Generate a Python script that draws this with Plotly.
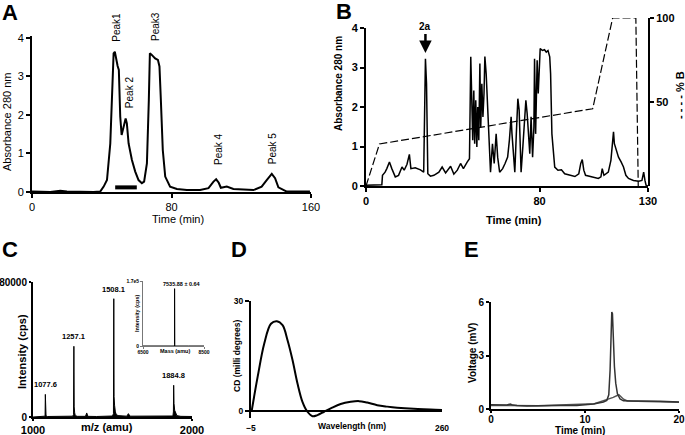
import plotly.graph_objects as go

W, H = 685, 435
FONT = "Arial, Liberation Sans, sans-serif"

# ---------------- Panel A ----------------
A_time = [0, 10.5, 16.2, 20.0, 35.3, 39.1, 41.1, 43.0, 44.9, 46.0, 46.8, 47.5, 48.3, 49.1, 49.8,
          50.6, 51.4, 52.1, 52.9, 53.7, 54.4, 55.4, 57.3, 59.2, 61.1, 63.0, 64.3, 65.9, 67.0,
          67.6, 68.7, 70.6, 72.2, 73.1, 73.9, 75.0, 76.4, 79.2, 83.1, 88.8, 96.4, 101.2, 104.1,
          105.6, 107.1, 108.3, 111.7, 115.5, 127.0, 131.7, 134.6, 137.5, 139.4, 141.3, 146.1, 159.4]
A_abs = [0.01, 0.0, 0.035, 0.01, 0.0, 0.01, 0.14, 0.31, 1.26, 2.82, 3.60, 3.64, 3.43, 3.27, 3.17,
         1.96, 1.48, 1.61, 1.83, 1.91, 1.78, 1.26, 0.83, 0.53, 0.31, 0.23, 0.27, 0.74, 2.39,
         3.60, 3.56, 3.47, 3.43, 3.26, 2.39, 1.09, 0.40, 0.14, 0.08, 0.05, 0.05, 0.10, 0.27,
         0.33, 0.24, 0.11, 0.14, 0.08, 0.05, 0.14, 0.31, 0.47, 0.36, 0.12, 0.01, 0.01]
A_bar_x = [47.7, 60.1]
A_bar_y = [0.12, 0.12]
A_peak_names = ["Peak1", "Peak 2", "Peak3", "Peak 4", "Peak 5"]
A_peak_x = [48.7, 56.3, 71.2, 106.9, 138.0]
A_peak_y = [3.86, 2.13, 3.86, 0.66, 0.66]
A_xticks = [0, 80, 160]
A_yticks = [0, 1, 2, 3, 4]

# ---------------- Panel B ----------------
B_time = [0, 7.3, 7.6, 8.8, 9.6, 10.8, 11.9, 13.5, 15.0, 16.6, 17.6, 18.9, 20.0, 20.7, 22.7, 25.1,
          26.6, 27.1, 27.4, 27.9, 28.5, 29.7, 31.3, 33.6, 35.1, 36.7, 39.0, 40.5, 42.1, 43.6, 44.9,
          46.7, 47.7, 48.3, 48.7, 49.2, 49.7, 50.1, 50.6, 51.1, 51.5, 52.0, 52.5, 52.9, 53.4, 53.9,
          54.4, 54.8, 55.4, 56.0, 56.8, 57.4, 58.3, 59.1, 60.0, 60.7, 61.6, 63.0, 64.1, 65.3, 66.1,
          66.9, 67.3, 67.9, 68.6, 69.3, 70.0, 70.6, 71.0, 71.5, 72.3, 73.0, 73.7, 74.3, 74.9, 75.5,
          76.1, 76.8, 77.4, 77.7, 78.2, 78.6, 78.9, 79.4, 79.9, 80.3, 81.3, 82.3, 83.1, 83.9, 84.7,
          85.1, 85.7, 86.4, 87.0, 88.5, 90.1, 91.6, 93.9, 96.3, 98.1, 99.0, 99.7, 100.4, 101.2,
          104.0, 107.1, 108.3, 108.9, 109.7, 111.7, 112.9, 113.6, 114.1, 114.5, 115.3, 116.4,
          117.6, 118.7, 119.8, 121.0, 123.3, 125.7, 127.2, 128.0, 128.6, 129.1, 130.0]
B_abs = [0.02, 0.03, 0.27, 0.35, 0.44, 0.61, 0.44, 0.23, 0.27, 0.48, 0.40, 0.55, 0.80, 0.44, 0.46, 0.41,
         0.35, 1.75, 3.22, 2.59, 0.31, 0.25, 0.27, 0.35, 0.48, 0.33, 0.50, 0.30, 0.40, 0.57, 0.44,
         0.61, 0.69, 3.27, 1.92, 1.16, 2.42, 1.07, 2.17, 0.99, 2.00, 1.16, 3.10, 1.49, 2.59, 1.75,
         2.34, 3.28, 2.84, 2.00, 0.90, 0.35, 1.07, 0.57, 1.32, 0.73, 0.35, 0.44, 0.57, 0.73, 1.16,
         1.75, 1.32, 0.73, 0.35, 1.32, 2.21, 1.92, 0.90, 0.35, 0.99, 1.75, 2.17, 1.83, 1.32, 0.82,
         1.75, 0.73, 1.49, 3.22, 1.32, 2.51, 3.18, 2.34, 3.01, 3.48, 3.43, 3.45, 3.39, 3.43, 3.27,
         2.84, 1.32, 0.73, 0.48, 0.40, 0.41, 0.31, 0.27, 0.24, 0.31, 0.57, 0.67, 0.40, 0.27,
         0.23, 0.19, 0.23, 0.44, 0.27, 0.35, 0.65, 0.99, 1.37, 1.07, 0.90, 0.73,
         0.61, 0.48, 0.27, 0.19, 0.14, 0.12, 0.14, 0.35, 0.14, 0.02, 0.0]
B_grad_time = [0, 6.2, 104.5, 113.7, 124.4, 125.5]
B_grad_pct = [0, 25, 46, 100, 100, 0]
B_xticks = [0, 80, 130]
B_yticks = [0, 1, 2, 3, 4]
B_y2ticks = [50, 100]
B_arrow_x, B_arrow_y = 27.4, 3.37

# ---------------- Panel C ----------------
C_mz = [1000, 1040, 1070, 1076, 1077.6, 1079, 1082, 1090, 1150, 1200, 1250, 1255, 1257.1, 1259, 1262,
        1266, 1280, 1330, 1338, 1345, 1400, 1450, 1500, 1506, 1508.1, 1510, 1513, 1518, 1525, 1540,
        1590, 1600, 1610, 1700, 1800, 1880, 1883, 1884.8, 1887, 1891, 1897, 1905, 1930, 2000]
C_int = [0, 300, 300, 500, 13400, 2000, 800, 300, 400, 300, 500, 1500, 41900, 6000, 2500,
         800, 400, 400, 2400, 400, 300, 400, 600, 2000, 70100, 12000, 7000, 3000, 1200, 800,
         500, 2000, 500, 400, 300, 600, 3000, 18800, 8000, 4000, 2000, 800, 400, 300]
C_peak_labels = ["1077.6", "1257.1", "1508.1", "1884.8"]
C_peak_mz = [1077.6, 1257.1, 1508.1, 1884.8]
C_peak_int = [13400, 41900, 70100, 18800]
C_xticks = [1000, 2000]
C_yticks = [0, 80000]
Ci_mass = [6500, 7000, 7530, 7534, 7535.88, 7538, 7542, 8000, 8500]
Ci_int = [0, 0, 0, 4000, 150000, 4000, 0, 0, 0]
Ci_xticks = [6500, 8500]
Ci_yticks = [0, 170000]
Ci_yticktext = ["0", "1.7e5"]

# ---------------- Panel D ----------------
D_wl = [-4.1, 4.2, 13.4, 22.7, 30.9, 38.8, 45.7, 52.6, 59.5, 66.4, 73.3, 80.3, 87.2, 96.4, 105.6,
        119.4, 133.3, 144.8, 156.3, 170.1, 184.0, 197.8, 220.8, 243.9, 260.0]
D_cd = [0, 9.3, 18.4, 23.8, 24.5, 23.4, 19.3, 13.9, 7.5, 2.5, -0.2, -1.4, -1.1, -0.2, 0.7,
        1.9, 2.5, 2.7, 2.3, 1.6, 1.2, 0.9, 0.6, 0.45, 0.3]
D_xticks = [-5, 260]
D_yticks = [0, 30]

# ---------------- Panel E ----------------
E_time = [0, 0.99, 1.70, 2.05, 2.34, 2.76, 3.82, 7.36, 9.13, 10.90, 11.96, 12.32, 12.53, 12.67, 12.78,
          12.85, 12.92, 13.03, 13.13, 13.27, 13.45, 13.73, 14.09, 15.15, 16.57, 17.98, 20.0]
E_volt = [0.24, 0.22, 0.22, 0.28, 0.22, 0.19, 0.17, 0.19, 0.20, 0.28, 0.39, 0.48, 0.80, 2.19, 4.42,
          5.44, 5.35, 3.68, 2.38, 1.45, 0.85, 0.56, 0.46, 0.45, 0.45, 0.43, 0.39]
E2_time = [0, 5, 11, 12.3, 13.0, 13.6, 14.1, 14.5, 20]
E2_volt = [0.2, 0.18, 0.3, 0.5, 0.65, 0.8, 0.55, 0.45, 0.38]
E_xticks = [0, 10, 20]
E_yticks = [0, 3, 6]


def xd(p0, p1):
    return [p0 / W, p1 / W]


def yd(top, bottom):
    return [1 - bottom / H, 1 - top / H]


def axis(dom, rng, tickvals, size, bold=True, anchor=None, ticktext=None, color="black", lw=2, **kw):
    d = dict(domain=dom, range=rng, tickvals=tickvals, showgrid=False, zeroline=False,
             showline=True, linecolor=color, linewidth=lw, ticks="outside", ticklen=4,
             tickwidth=lw, tickcolor=color, automargin=False,
             tickfont=dict(family=FONT, size=size, color="black",
                           weight="bold" if bold else "normal"))
    if anchor:
        d["anchor"] = anchor
    if ticktext is not None:
        d["ticktext"] = ticktext
    d.update(kw)
    return d


fig = go.Figure()

# A
fig.add_trace(go.Scatter(x=A_time, y=A_abs, mode="lines", line=dict(color="black", width=2),
                         xaxis="x", yaxis="y"))
fig.add_trace(go.Scatter(x=A_bar_x, y=A_bar_y, mode="lines", line=dict(color="black", width=4),
                         xaxis="x", yaxis="y"))
# B
fig.add_trace(go.Scatter(x=B_time, y=B_abs, mode="lines", line=dict(color="black", width=1.5),
                         xaxis="x2", yaxis="y2"))
fig.add_trace(go.Scatter(x=B_grad_time, y=B_grad_pct, mode="lines",
                         line=dict(color="black", width=1.2, dash="8px,3px"),
                         xaxis="x2", yaxis="y3"))
# C
fig.add_trace(go.Scatter(x=C_mz, y=C_int, mode="lines", line=dict(color="black", width=1),
                         fill="tozeroy", fillcolor="black", xaxis="x3", yaxis="y4"))
fig.add_trace(go.Scatter(x=Ci_mass, y=Ci_int, mode="lines", line=dict(color="black", width=1),
                         xaxis="x4", yaxis="y5"))
# D
fig.add_trace(go.Scatter(x=D_wl, y=D_cd, mode="lines", line=dict(color="black", width=2, shape="spline"),
                         xaxis="x5", yaxis="y6"))
# E
fig.add_trace(go.Scatter(x=E2_time, y=E2_volt, mode="lines", line=dict(color="#555", width=1.5),
                         xaxis="x6", yaxis="y7"))
fig.add_trace(go.Scatter(x=E_time, y=E_volt, mode="lines", line=dict(color="#333", width=1.5),
                         xaxis="x6", yaxis="y7"))

layout = dict(
    width=W, height=H, margin=dict(l=0, r=0, t=0, b=0), showlegend=False,
    paper_bgcolor="white", plot_bgcolor="rgba(0,0,0,0)",
    font=dict(family=FONT, color="black"),
    xaxis=axis(xd(32, 311), [0, 160], A_xticks, 11, bold=False, anchor="y"),
    yaxis=axis(yd(36, 192), [0, 4.05], A_yticks, 11, bold=False, anchor="x"),
    xaxis2=axis(xd(366, 648), [0, 130], B_xticks, 11, anchor="y2"),
    yaxis2=axis(yd(28, 186), [0, 4], B_yticks, 11, anchor="x2"),
    yaxis3=axis(yd(18, 186), [0, 100], B_y2ticks, 11, anchor="x2", side="right"),
    xaxis3=axis(xd(33, 192), [1000, 2000], C_xticks, 11, anchor="y4", ticklen=2),
    yaxis4=axis(yd(282, 417), [0, 80000], C_yticks, 10, anchor="x3", ticklen=2),
    xaxis4=axis(xd(143, 204), [6500, 8500], Ci_xticks, 5, anchor="y5", color="#777", lw=1,
                ticklen=2, ticklabelstandoff=-1),
    yaxis5=axis(yd(281, 346), [0, 170000], Ci_yticks, 5, anchor="x4", ticktext=Ci_yticktext,
                color="#777", lw=1, ticklen=2),
    xaxis5=axis(xd(251, 442), [-5, 260], D_xticks, 8.5, anchor="y6", showline=False, ticks="",
                ticklabelstandoff=3),
    yaxis6=axis(yd(301, 418), [-1.9, 30], D_yticks, 8.5, anchor="x5",
                zeroline=True, zerolinecolor="black", zerolinewidth=2),
    xaxis6=axis(xd(491, 679), [0, 20], E_xticks, 10, anchor="y7", ticklen=2,
                ticklabelstandoff=-2),
    yaxis7=axis(yd(302, 409), [0, 6], E_yticks, 10, anchor="x6", ticklen=3),
)
fig.update_layout(**layout)
fig.update_layout(yaxis3=dict(tickformat="d"), yaxis4=dict(tickformat="d"))


def pap(px, py, text, size, bold=True, angle=0, xanchor="center", yanchor="middle", color="black"):
    fig.add_annotation(xref="paper", yref="paper", x=px / W, y=1 - py / H, text=text,
                       showarrow=False, textangle=angle, xanchor=xanchor, yanchor=yanchor,
                       font=dict(family=FONT, size=size, color=color,
                                 weight="bold" if bold else "normal"))


# panel letters
for lab, px, py in [("A", 0, 13), ("B", 334, 11), ("C", 0, 249), ("D", 229, 249), ("E", 462, 249)]:
    pap(px, py, lab, 22, xanchor="left")

# axis titles
pap(7, 122, "Absorbance 280 nm", 11, bold=False, angle=-90)
pap(178, 219, "Time (min)", 11, bold=False)
pap(339, 84, "Absorbance 280 nm", 10, angle=-90)
pap(514, 220, "Time (min)", 11)
pap(680, 95, "- - - - % B", 11, angle=-90)
pap(22, 352, "Intensity (cps)", 11, angle=-90)
pap(107, 427, "m/z (amu)", 11)
pap(137, 314, "Intensity (cps)", 5.5, angle=-90)
pap(175, 351, "Mass (amu)", 5.5)
pap(182, 284, "7535.88 ± 0.64", 5.5)
pap(237, 356, "CD (milli degrees)", 8.5, angle=-90)
pap(352, 426, "Wavelength (nm)", 8.5)
pap(472, 353, "Voltage (mV)", 10, angle=-90)
pap(580, 430, "Time (min)", 10)

# peak labels panel A
for name, x, y in zip(A_peak_names, A_peak_x, A_peak_y):
    fig.add_annotation(xref="x", yref="y", x=x, y=y, text=name, showarrow=False, textangle=-90,
                       xanchor="center", yanchor="bottom",
                       font=dict(family=FONT, size=10, color="black"))

# peak labels panel C
for lab, x, y in zip(C_peak_labels, C_peak_mz, C_peak_int):
    fig.add_annotation(xref="x3", yref="y4", x=x, y=y, text=lab, showarrow=False,
                       xanchor="center", yanchor="bottom", yshift=3,
                       font=dict(family=FONT, size=7.5, color="black", weight="bold"))

# arrow 2a in panel B
fig.add_annotation(xref="x2", yref="y2", x=B_arrow_x, y=B_arrow_y, text="2a", showarrow=True,
                   ax=0, ay=-26, arrowhead=2, arrowsize=1, arrowwidth=2.5, arrowcolor="black",
                   standoff=0, font=dict(family=FONT, size=10, color="black", weight="bold"))

fig.write_html("out.html", config={"displayModeBar": False},
               post_script="document.body.style.margin='0';")
